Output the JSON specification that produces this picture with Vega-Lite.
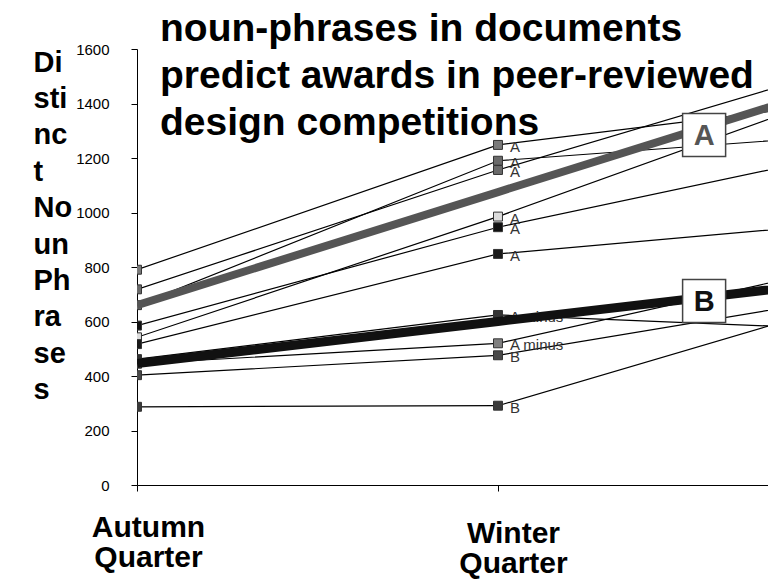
{
  "$schema": "https://vega.github.io/schema/vega-lite/v6.json",
  "autosize": "none",
  "width": 631,
  "height": 436,
  "padding": {"left": 137, "top": 49, "right": 0, "bottom": 103},
  "background": "white",
  "config": {"view": {"stroke": null}, "font": "Liberation Sans"},
  "title": {
    "text": ["noun-phrases in documents", "predict awards in peer-reviewed", "design competitions"],
    "anchor": "start",
    "frame": "group",
    "orient": "top",
    "baseline": "top",
    "offset": 41,
    "dx": 23,
    "dy": 142,
    "fontSize": 39,
    "fontWeight": "bold",
    "font": "Liberation Sans",
    "color": "black",
    "lineHeight": 47
  },
  "datasets": {
    "students": [
      {"student": "s1", "quarter": 0, "value": 790, "grade": "A"},
      {"student": "s1", "quarter": 1, "value": 1248, "grade": "A"},
      {"student": "s1", "quarter": 2, "value": 1411, "grade": "A"},
      {"student": "s2", "quarter": 0, "value": 660, "grade": "A"},
      {"student": "s2", "quarter": 1, "value": 1190, "grade": "A"},
      {"student": "s2", "quarter": 2, "value": 1287, "grade": "A"},
      {"student": "s3", "quarter": 0, "value": 718, "grade": "A"},
      {"student": "s3", "quarter": 1, "value": 1156, "grade": "A"},
      {"student": "s3", "quarter": 2, "value": 1549, "grade": "A"},
      {"student": "s4", "quarter": 0, "value": 542, "grade": "A"},
      {"student": "s4", "quarter": 1, "value": 985, "grade": "A"},
      {"student": "s4", "quarter": 2, "value": 1462, "grade": "A"},
      {"student": "s5", "quarter": 0, "value": 585, "grade": "A"},
      {"student": "s5", "quarter": 1, "value": 946, "grade": "A"},
      {"student": "s5", "quarter": 2, "value": 1226, "grade": "A"},
      {"student": "s6", "quarter": 0, "value": 517, "grade": "A"},
      {"student": "s6", "quarter": 1, "value": 848, "grade": "A"},
      {"student": "s6", "quarter": 2, "value": 965, "grade": "A"},
      {"student": "s7", "quarter": 0, "value": 462, "grade": "A minus"},
      {"student": "s7", "quarter": 1, "value": 624, "grade": "A minus"},
      {"student": "s7", "quarter": 2, "value": 570, "grade": "A minus"},
      {"student": "s8", "quarter": 0, "value": 445, "grade": "A minus"},
      {"student": "s8", "quarter": 1, "value": 520, "grade": "A minus"},
      {"student": "s8", "quarter": 2, "value": 815, "grade": "A minus"},
      {"student": "s9", "quarter": 0, "value": 403, "grade": "B"},
      {"student": "s9", "quarter": 1, "value": 476, "grade": "B"},
      {"student": "s9", "quarter": 2, "value": 696, "grade": "B"},
      {"student": "s10", "quarter": 0, "value": 287, "grade": "B"},
      {"student": "s10", "quarter": 1, "value": 291, "grade": "B"},
      {"student": "s10", "quarter": 2, "value": 681, "grade": "B"}
    ],
    "means": [
      {"group": "A", "quarter": 0, "value": 660},
      {"group": "A", "quarter": 1, "value": 1075},
      {"group": "A", "quarter": 2, "value": 1490},
      {"group": "B", "quarter": 0, "value": 446},
      {"group": "B", "quarter": 1, "value": 600},
      {"group": "B", "quarter": 2, "value": 755}
    ],
    "boxes": [
      {"group": "A", "quarter": 1.571, "value": 1284},
      {"group": "B", "quarter": 1.571, "value": 675}
    ]
  },
  "encoding": {
    "x": {
      "field": "quarter",
      "type": "quantitative",
      "scale": {"domain": [0, 1.748], "nice": false, "zero": false},
      "axis": {
        "title": null,
        "values": [0, 1],
        "labelExpr": "datum.value == 0 ? ['Autumn', 'Quarter'] : ['Winter', 'Quarter']",
        "labelFontSize": 30,
        "labelFontWeight": "bold",
        "labelFont": "Liberation Sans",
        "labelColor": "black",
        "labelLineHeight": 30,
        "labelPadding": {"condition": {"test": "datum.value == 1", "value": 27}, "value": 21},
        "labelOffset": {"condition": {"test": "datum.value == 1", "value": 15}, "value": 11},
        "labelAlign": "center",
        "labelBaseline": "top",
        "tickSize": 6,
        "tickColor": "black",
        "domainColor": "black",
        "grid": false
      }
    },
    "y": {
      "field": "value",
      "type": "quantitative",
      "scale": {"domain": [0, 1600], "nice": false},
      "axis": {
        "values": [0, 200, 400, 600, 800, 1000, 1200, 1400, 1600],
        "format": "d",
        "title": ["Di", "sti", "nc", "t", "No", "un", "Ph", "ra", "se", "s"],
        "titleAngle": 0,
        "titleAlign": "left",
        "titleBaseline": "alphabetic",
        "titleX": -104,
        "titleY": 22,
        "titleFontSize": 29,
        "titleFontWeight": "bold",
        "titleFont": "Liberation Sans",
        "titleColor": "black",
        "titleLineHeight": 36.4,
        "labelFontSize": 15,
        "labelFont": "Liberation Sans",
        "labelColor": "black",
        "labelPadding": 22,
        "tickSize": 6,
        "tickColor": "black",
        "domainColor": "black",
        "grid": false
      }
    }
  },
  "layer": [
    {
      "data": {"name": "students"},
      "mark": {"type": "line", "color": "black", "strokeWidth": 1.2, "clip": true},
      "encoding": {"detail": {"field": "student"}}
    },
    {
      "data": {"name": "students"},
      "mark": {"type": "point", "shape": "square", "size": 80, "filled": true, "stroke": "#333", "strokeWidth": 1, "opacity": 1, "clip": true},
      "encoding": {
        "fill": {
          "field": "student",
          "type": "nominal",
          "legend": null,
          "scale": {
            "domain": ["s1", "s2", "s3", "s4", "s5", "s6", "s7", "s8", "s9", "s10"],
            "range": ["#7a7a7a", "#6a6a6a", "#6a6a6a", "#dcdcdc", "#111111", "#1a1a1a", "#333333", "#808080", "#4a4a4a", "#3a3a3a"]
          }
        }
      }
    },
    {
      "data": {"name": "students"},
      "transform": [{"filter": "datum.quarter == 1"}],
      "mark": {"type": "text", "align": "left", "baseline": "middle", "dx": 12, "dy": 2, "fontSize": 15, "color": "#333", "font": "Liberation Sans"},
      "encoding": {"text": {"field": "grade"}}
    },
    {
      "data": {"name": "means"},
      "mark": {"type": "line", "clip": true, "strokeCap": "butt"},
      "encoding": {
        "detail": {"field": "group"},
        "color": {"field": "group", "type": "nominal", "legend": null, "scale": {"domain": ["A", "B"], "range": ["#555555", "#111111"]}},
        "strokeWidth": {"field": "group", "type": "nominal", "legend": null, "scale": {"domain": ["A", "B"], "range": [8, 9]}}
      }
    },
    {
      "data": {"name": "boxes"},
      "mark": {"type": "point", "shape": "square", "size": 1850, "filled": true, "fill": "white", "stroke": "#444", "strokeWidth": 1.5, "opacity": 1},
      "encoding": {}
    },
    {
      "data": {"name": "boxes"},
      "mark": {"type": "text", "fontSize": 29, "fontWeight": "bold", "baseline": "middle", "align": "center", "dy": 1, "font": "Liberation Sans"},
      "encoding": {
        "text": {"field": "group"},
        "color": {"field": "group", "type": "nominal", "legend": null, "scale": {"domain": ["A", "B"], "range": ["#555555", "#333333"]}}
      }
    }
  ]
}
